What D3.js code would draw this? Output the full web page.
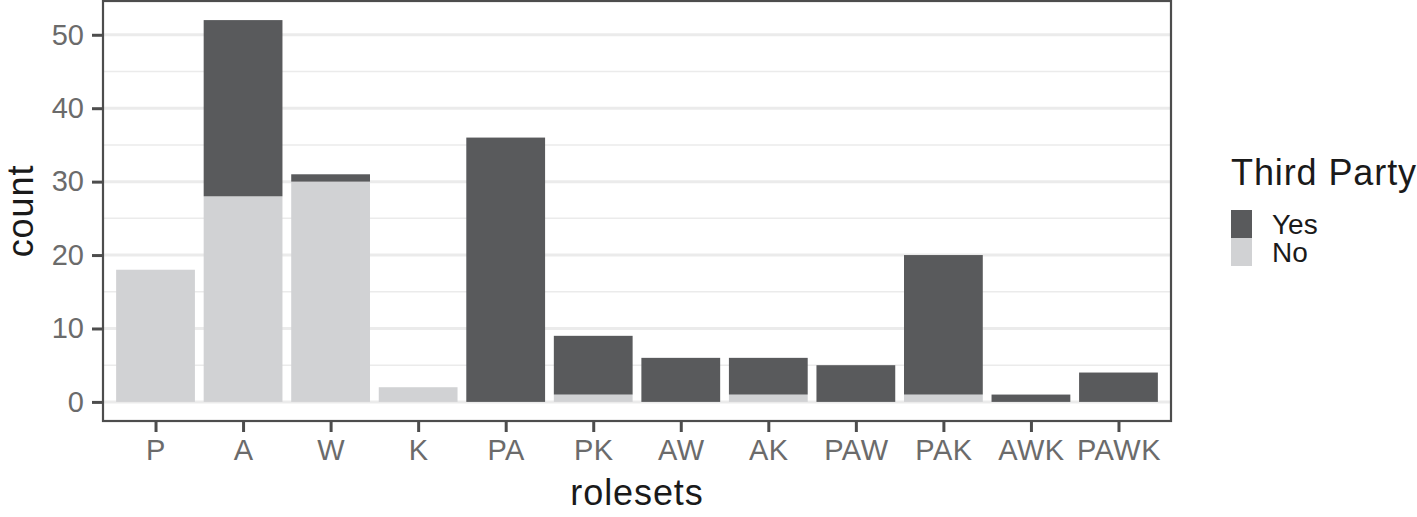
<!DOCTYPE html>
<html>
<head>
<meta charset="utf-8">
<script src="https://cdn.jsdelivr.net/npm/d3@7"></script>
<style>
  body { margin: 0; background: #fff; }
  svg text { font-family: "Liberation Sans", Arial, Helvetica, sans-serif; }
</style>
</head>
<body>
<svg id="chart" width="1417" height="517"></svg>
<script>
// rolesets and counts by third party involvement
var rolesets = ['P', 'A', 'W', 'K', 'PA', 'PK', 'AW', 'AK', 'PAW', 'PAK', 'AWK', 'PAWK'];
var noCounts = [18, 28, 30, 2, 0, 1, 0, 1, 0, 1, 0, 0];
var yesCounts = [0, 24, 1, 0, 36, 8, 6, 5, 5, 19, 1, 4];
var yTicks = [0, 10, 20, 30, 40, 50];
var minorTicks = [5, 15, 25, 35, 45];
var legendLabels = ['Yes', 'No'];

var colYes = '#595a5c';
var colNo = '#d1d2d4';

var svg = d3.select('#chart');
var panel = { left: 103, top: 1, right: 1171, bottom: 421 };

// ggplot-ish expansion: 0.6 on discrete, 5% on continuous
var x = d3.scaleLinear()
    .domain([0.4, rolesets.length + 0.6])
    .range([panel.left, panel.right]);
var maxTotal = d3.max(rolesets, function (d, i) { return noCounts[i] + yesCounts[i]; });
var y = d3.scaleLinear()
    .domain([-maxTotal * 0.05, maxTotal * 1.05])
    .range([panel.bottom, panel.top]);

// grid lines
svg.append('g').selectAll('line.minor')
    .data(minorTicks).enter().append('line')
    .attr('x1', panel.left).attr('x2', panel.right)
    .attr('y1', function (d) { return y(d); })
    .attr('y2', function (d) { return y(d); })
    .attr('stroke', '#ebebeb').attr('stroke-width', 1.5);
svg.append('g').selectAll('line.major')
    .data(yTicks).enter().append('line')
    .attr('x1', panel.left).attr('x2', panel.right)
    .attr('y1', function (d) { return y(d); })
    .attr('y2', function (d) { return y(d); })
    .attr('stroke', '#ebebeb').attr('stroke-width', 3);

// stacked bars: No at bottom, Yes on top
var stackData = rolesets.map(function (r, i) {
    return { role: r, No: noCounts[i], Yes: yesCounts[i] };
});
var series = d3.stack().keys(['No', 'Yes'])(stackData);
var bw = (x(2) - x(1)) * 0.9;

svg.append('g').selectAll('g')
    .data(series).enter().append('g')
    .attr('fill', function (s) { return s.key === 'Yes' ? colYes : colNo; })
    .selectAll('rect')
    .data(function (s) { return s; }).enter().append('rect')
    .filter(function (d) { return d[1] > d[0]; })
    .attr('x', function (d) { return x(rolesets.indexOf(d.data.role) + 1) - bw / 2; })
    .attr('width', bw)
    .attr('y', function (d) { return y(d[1]); })
    .attr('height', function (d) { return y(d[0]) - y(d[1]); });

// panel border
svg.append('rect')
    .attr('x', panel.left).attr('y', panel.top)
    .attr('width', panel.right - panel.left)
    .attr('height', panel.bottom - panel.top)
    .attr('fill', 'none').attr('stroke', '#4d4d4d').attr('stroke-width', 2.2);

// y axis
var yAxis = d3.axisLeft(y).tickValues(yTicks).tickSize(11).tickPadding(8);
var gy = svg.append('g').attr('transform', 'translate(' + panel.left + ',0)').call(yAxis);
gy.select('.domain').remove();
gy.selectAll('.tick line').attr('stroke', '#4d4d4d').attr('stroke-width', 3);
gy.selectAll('.tick text').attr('fill', '#6b6b6b').attr('font-size', 29);

// x axis
var xAxis = d3.axisBottom(x)
    .tickValues(d3.range(1, rolesets.length + 1))
    .tickFormat(function (d) { return rolesets[d - 1]; })
    .tickSize(11).tickPadding(7);
var gx = svg.append('g').attr('transform', 'translate(0,' + panel.bottom + ')').call(xAxis);
gx.select('.domain').remove();
gx.selectAll('.tick line').attr('stroke', '#4d4d4d').attr('stroke-width', 3);
gx.selectAll('.tick text').attr('fill', '#6b6b6b').attr('font-size', 29)
    .attr('letter-spacing', 0.5);

// axis titles
svg.append('text')
    .attr('x', (panel.left + panel.right) / 2).attr('y', 505)
    .attr('text-anchor', 'middle').attr('font-size', 36).attr('fill', '#1a1a1a')
    .attr('letter-spacing', 0.9)
    .text('rolesets');
svg.append('text')
    .attr('transform', 'translate(33,' + ((panel.top + panel.bottom) / 2) + ') rotate(-90)')
    .attr('text-anchor', 'middle').attr('font-size', 36).attr('fill', '#1a1a1a')
    .attr('letter-spacing', 0.9)
    .text('count');

// legend
var legend = svg.append('g').attr('transform', 'translate(1231,0)');
legend.append('text')
    .attr('x', 0).attr('y', 185)
    .attr('font-size', 36).attr('fill', '#1a1a1a')
    .attr('letter-spacing', 0.9)
    .text('Third Party');
legend.selectAll('rect')
    .data(legendLabels).enter().append('rect')
    .attr('x', 0).attr('y', function (d, i) { return 210 + i * 28; })
    .attr('width', 21).attr('height', 28)
    .attr('fill', function (d) { return d === 'Yes' ? colYes : colNo; });
legend.selectAll('text.lab')
    .data(legendLabels).enter().append('text')
    .attr('class', 'lab')
    .attr('x', 41).attr('y', function (d, i) { return 234 + i * 28; })
    .attr('font-size', 28).attr('fill', '#1a1a1a')
    .text(function (d) { return d; });
</script>
</body>
</html>
